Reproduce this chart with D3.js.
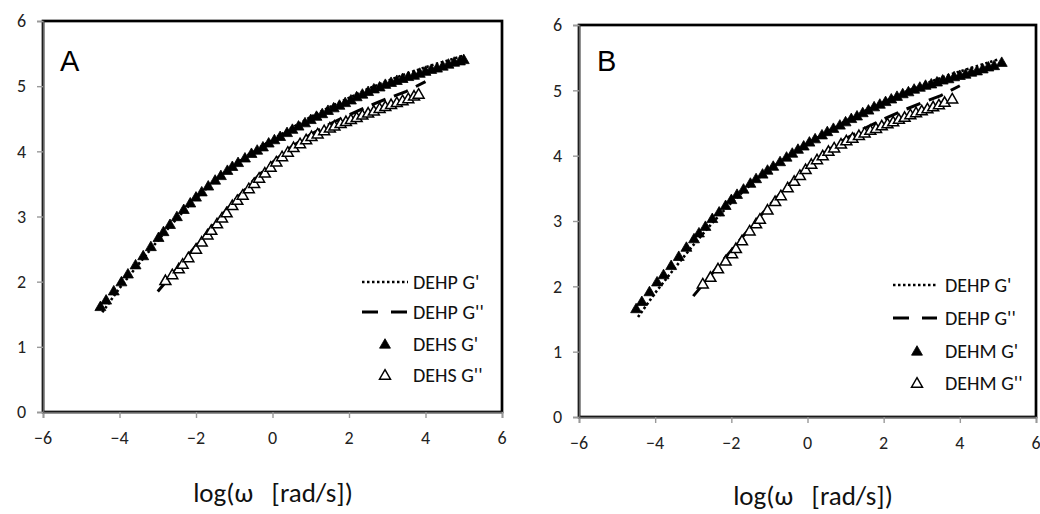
<!DOCTYPE html>
<html><head><meta charset="utf-8">
<script src="https://cdn.jsdelivr.net/npm/d3@7"></script>
<style>
html,body{margin:0;padding:0;background:#fff;}
svg{display:block;font-family:Carlito, Lato, "Liberation Sans", sans-serif;}
</style></head>
<body><svg id="c" width="1040" height="514"></svg>
<script>
// ---- data ----
const xTicks = [-6,-4,-2,0,2,4,6];
const yTicks = [0,1,2,3,4,5,6];
const axisTitle = "log(ω   [rad/s])";

// DEHP reference curves (lines), same in both panels
const dehpGpX  = [-4.45,-4,-3.5,-3,-2.5,-2,-1.5,-1,-0.5,0,0.5,1,1.5,2,2.5,3,3.5,4,4.5,5.0];
const dehpGpY  = [1.53,1.9,2.27,2.63,2.97,3.28,3.55,3.79,4.0,4.18,4.36,4.53,4.68,4.82,4.96,5.08,5.19,5.29,5.38,5.47];
const dehpGppX = [-3.0,-2.5,-2,-1.5,-1,-0.5,0,0.5,1,1.5,2,2.5,3,3.5,4.0];
const dehpGppY = [1.85,2.2,2.55,2.9,3.24,3.55,3.83,4.07,4.26,4.42,4.56,4.69,4.81,4.92,5.07];

// Panel A: DEHS
const dehsGpX = [-4.50,-4.35,-4.15,-3.95,-3.78,-3.58,-3.38,-3.18,-2.98,-2.85,-2.68,-2.50,-2.32,-2.15,-2.00,-1.85,-1.68,-1.50,-1.35,-1.18,-1.05,-0.90,-0.72,-0.55,-0.40,-0.25,-0.10,0.05,0.20,0.38,0.52,0.68,0.85,1.00,1.15,1.30,1.45,1.60,1.75,1.90,2.05,2.20,2.35,2.50,2.65,2.80,2.95,3.10,3.25,3.40,3.55,3.70,3.85,4.00,4.15,4.30,4.45,4.60,4.75,4.90,5.00];
const dehsGpY = [1.62,1.72,1.86,2.00,2.12,2.26,2.40,2.54,2.68,2.77,2.88,3.00,3.11,3.21,3.30,3.38,3.47,3.56,3.63,3.71,3.77,3.83,3.90,3.97,4.02,4.07,4.13,4.18,4.23,4.29,4.34,4.39,4.44,4.49,4.54,4.58,4.63,4.67,4.71,4.75,4.79,4.84,4.88,4.92,4.96,4.99,5.03,5.06,5.09,5.12,5.15,5.17,5.20,5.23,5.26,5.28,5.31,5.34,5.37,5.39,5.41];
const dehsGppX = [-2.80,-2.62,-2.45,-2.35,-2.20,-2.00,-1.85,-1.70,-1.60,-1.45,-1.32,-1.20,-1.05,-0.92,-0.78,-0.62,-0.48,-0.35,-0.20,-0.05,0.10,0.25,0.40,0.55,0.72,0.88,1.02,1.18,1.35,1.50,1.62,1.78,1.92,2.05,2.20,2.35,2.50,2.65,2.80,2.95,3.10,3.25,3.40,3.55,3.70,3.82];
const dehsGppY = [2.02,2.11,2.20,2.27,2.37,2.50,2.61,2.72,2.79,2.89,2.98,3.06,3.17,3.25,3.33,3.43,3.51,3.59,3.67,3.76,3.84,3.92,3.99,4.06,4.12,4.18,4.23,4.27,4.32,4.36,4.39,4.43,4.46,4.49,4.52,4.56,4.59,4.62,4.66,4.69,4.72,4.75,4.78,4.81,4.85,4.88];

// Panel B: DEHM
const dehmGpX = [-4.50,-4.35,-4.15,-3.95,-3.78,-3.58,-3.38,-3.18,-2.98,-2.85,-2.68,-2.50,-2.32,-2.15,-2.00,-1.85,-1.68,-1.50,-1.35,-1.18,-1.05,-0.90,-0.72,-0.55,-0.40,-0.25,-0.10,0.05,0.20,0.38,0.52,0.68,0.85,1.00,1.15,1.30,1.45,1.60,1.75,1.90,2.05,2.20,2.35,2.50,2.65,2.80,2.95,3.10,3.25,3.40,3.55,3.70,3.85,4.00,4.15,4.30,4.45,4.60,4.75,4.90,5.10];
const dehmGpY = [1.66,1.77,1.92,2.07,2.18,2.32,2.46,2.60,2.73,2.82,2.92,3.04,3.14,3.24,3.33,3.41,3.49,3.58,3.65,3.72,3.78,3.84,3.91,3.98,4.04,4.10,4.15,4.21,4.26,4.32,4.37,4.42,4.47,4.52,4.57,4.61,4.66,4.70,4.75,4.79,4.83,4.87,4.91,4.95,4.98,5.02,5.05,5.08,5.10,5.13,5.16,5.18,5.21,5.23,5.25,5.28,5.30,5.33,5.36,5.38,5.43];
const dehmGppX = [-2.75,-2.55,-2.35,-2.15,-1.98,-1.88,-1.72,-1.52,-1.35,-1.25,-1.05,-0.85,-0.70,-0.52,-0.35,-0.20,-0.05,0.10,0.25,0.40,0.55,0.70,0.88,1.02,1.18,1.35,1.50,1.65,1.80,1.95,2.10,2.25,2.40,2.55,2.70,2.85,3.00,3.15,3.30,3.45,3.60,3.80];
const dehmGppY = [2.04,2.14,2.27,2.39,2.50,2.58,2.70,2.85,2.96,3.03,3.17,3.30,3.39,3.51,3.61,3.70,3.79,3.87,3.94,4.00,4.07,4.12,4.18,4.23,4.27,4.31,4.35,4.39,4.42,4.46,4.49,4.52,4.56,4.59,4.63,4.66,4.69,4.72,4.75,4.78,4.82,4.87];

const panelALegend = ["DEHP G'", "DEHP G''", "DEHS G'", "DEHS G''"];
const panelBLegend = ["DEHP G'", "DEHP G''", "DEHM G'", "DEHM G''"];

// ---- drawing ----
const svg = d3.select("#c");
const zip = (xs, ys) => xs.map((x,i)=>({x, y: ys[i]}));
const TICKFONT = 18;

function panel(cfg){
  const g = svg.append("g");
  const x = d3.scaleLinear().domain([-6,6]).range([cfg.left, cfg.right]);
  const y = d3.scaleLinear().domain([0,6]).range([cfg.bottom, cfg.top]);

  // plot border
  g.append("rect").attr("x", cfg.left).attr("y", cfg.top)
    .attr("width", cfg.right-cfg.left).attr("height", cfg.bottom-cfg.top)
    .attr("fill","#fff").attr("stroke","#000").attr("stroke-width",2.7);

  // axes (lines + ticks via d3.axis, labels drawn from the same scales)
  const ax = g.append("g").attr("transform",`translate(0,${cfg.bottom})`)
    .call(d3.axisBottom(x).tickValues(xTicks).tickSize(6).tickFormat(""));
  const ay = g.append("g").attr("transform",`translate(${cfg.left},0)`)
    .call(d3.axisLeft(y).tickValues(yTicks).tickSize(6).tickFormat(""));
  [ax, ay].forEach(a=>{
    a.select(".domain").attr("stroke","#666").attr("stroke-width",1.6);
    a.selectAll(".tick line").attr("stroke","#999").attr("stroke-width",1.4);
  });
  g.append("g").selectAll("text").data(xTicks).join("text")
    .attr("x", d=>x(d)).attr("y", cfg.bottom+26).attr("dy","0.35em")
    .attr("text-anchor","middle").attr("font-size",TICKFONT).attr("fill","#222")
    .text(d=>d3.format("d")(d));
  g.append("g").selectAll("text").data(yTicks).join("text")
    .attr("x", cfg.left-17).attr("y", d=>y(d)).attr("dy","0.35em")
    .attr("text-anchor","end").attr("font-size",TICKFONT).attr("fill","#222")
    .text(d=>d3.format("d")(d));

  // lines
  const line = d3.line().x(d=>x(d.x)).y(d=>y(d.y));
  g.append("path").datum(zip(dehpGpX, dehpGpY)).attr("d", line)
    .attr("fill","none").attr("stroke","#000").attr("stroke-width",2.6).attr("stroke-dasharray","2.5,2.5");
  g.append("path").datum(zip(dehpGppX, dehpGppY)).attr("d", line)
    .attr("fill","none").attr("stroke","#000").attr("stroke-width",3).attr("stroke-dasharray","15,9");

  const tri = d3.symbol().type(d3.symbolTriangle).size(52);
  g.append("g").selectAll("path").data(zip(cfg.gpX, cfg.gpY)).join("path")
    .attr("d", tri).attr("transform", d=>`translate(${x(d.x)},${y(d.y)+1})`)
    .attr("fill","#000").attr("stroke","#000").attr("stroke-width",0.8);
  g.append("g").selectAll("path").data(zip(cfg.gppX, cfg.gppY)).join("path")
    .attr("d", tri).attr("transform", d=>`translate(${x(d.x)},${y(d.y)+1})`)
    .attr("fill","#fff").attr("stroke","#000").attr("stroke-width",1.5);

  // panel letter
  g.append("text").attr("x", cfg.left+cfg.letterDx).attr("y", 71)
    .attr("font-size",29).attr("fill","#000").attr("font-family","'Liberation Sans', Arial, sans-serif").text(cfg.letter);

  // legend
  const L = cfg.legend;
  const lg = g.append("g");
  L.rows.forEach((ry,i)=>{
    if(i===0){
      lg.append("line").attr("x1",L.lx1).attr("x2",L.lx2).attr("y1",ry).attr("y2",ry)
        .attr("stroke","#000").attr("stroke-width",2.6).attr("stroke-dasharray","2.5,2.5");
    } else if(i===1){
      lg.append("line").attr("x1",L.lx1).attr("x2",L.lx2).attr("y1",ry).attr("y2",ry)
        .attr("stroke","#000").attr("stroke-width",3).attr("stroke-dasharray","16,13");
    } else {
      lg.append("path").attr("d", tri).attr("transform",`translate(${L.mx},${ry+1})`)
        .attr("fill", i===2 ? "#000" : "#fff").attr("stroke","#000").attr("stroke-width", i===2?0.8:1.5);
    }
    lg.append("text").attr("x", L.tx).attr("y", ry).attr("dy","0.35em")
      .attr("font-size",20).attr("fill","#111").text(cfg.legendLabels[i]);
  });

  // axis title
  g.append("text").attr("x", cfg.titleX).attr("y", cfg.titleY).attr("text-anchor","middle")
    .style("white-space","pre")
    .attr("font-size",27).attr("fill","#111").text(axisTitle);
}

panel({left:43, right:502, top:21, bottom:412, letter:"A", letterDx:17,
  gpX: dehsGpX, gpY: dehsGpY, gppX: dehsGppX, gppY: dehsGppY,
  legendLabels: panelALegend,
  legend:{rows:[282,312,344,375], lx1:362, lx2:408, mx:385, tx:413},
  titleX:273, titleY:502});

panel({left:579, right:1036, top:25, bottom:417, letter:"B", letterDx:18,
  gpX: dehmGpX, gpY: dehmGpY, gppX: dehmGppX, gppY: dehmGppY,
  legendLabels: panelBLegend,
  legend:{rows:[285,318,351,383], lx1:893, lx2:937, mx:917, tx:945},
  titleX:813, titleY:505});
</script>
</body></html>
